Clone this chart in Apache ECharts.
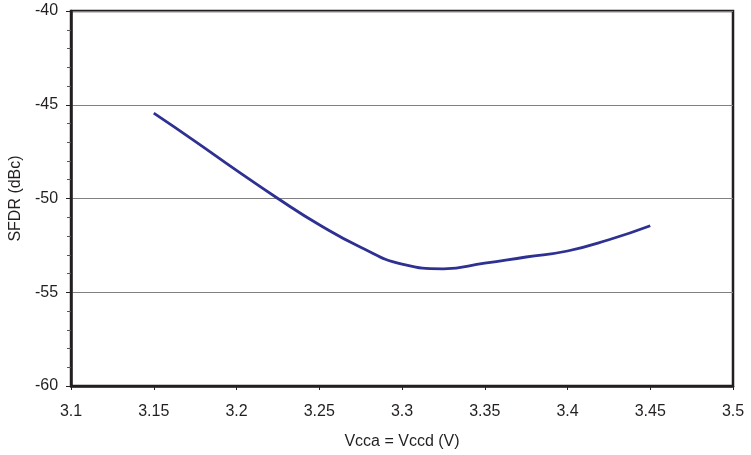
<!DOCTYPE html>
<html>
<head>
<meta charset="utf-8">
<script src="https://cdn.jsdelivr.net/npm/echarts@6/dist/echarts.min.js"></script>
<style>
  html, body { margin: 0; padding: 0; background: #fff; }
  #chart { width: 751px; height: 455px; }
</style>
</head>
<body>
<div id="chart"></div>
<script>
// supply voltage (V) and SFDR (dBc)
const vcc = [3.15, 3.175, 3.2, 3.225, 3.25, 3.275, 3.3, 3.325, 3.35, 3.375, 3.4, 3.425, 3.45]
const sfdr = [-45.45, -46.95, -48.5, -50.0, -51.4, -52.6, -53.5, -53.75, -53.45, -53.12, -52.8, -52.2, -51.45]

const chart = echarts.init(document.getElementById('chart'))
chart.setOption({
  animation: false,
  textStyle: { fontFamily: 'Liberation Sans, Arial, sans-serif' },
  grid: {
    left: 71,
    right: 18,
    top: 11,
    bottom: 69,
    show: true,
    borderColor: '#231f20',
    borderWidth: 2.5
  },
  xAxis: {
    type: 'value',
    min: 3.1,
    max: 3.5,
    interval: 0.05,
    name: 'Vcca = Vccd (V)',
    nameLocation: 'middle',
    nameGap: 48,
    nameTextStyle: { fontSize: 16, color: '#231f20' },
    axisLine: { lineStyle: { color: '#231f20', width: 2.5 } },
    axisTick: { show: true, length: 4, lineStyle: { color: '#231f20', width: 1 } },
    axisLabel: {
      fontSize: 16,
      color: '#231f20',
      margin: 18,
      formatter: v => String(Math.round(v * 100) / 100)
    },
    splitLine: { show: false }
  },
  yAxis: {
    type: 'value',
    min: -60,
    max: -40,
    interval: 5,
    name: 'SFDR (dBc)',
    nameLocation: 'middle',
    nameGap: 44,
    nameTextStyle: { fontSize: 16, color: '#231f20' },
    axisLine: { show: true, lineStyle: { color: '#231f20', width: 2.5 } },
    axisTick: { show: true, length: 5, lineStyle: { color: '#231f20', width: 1 } },
    minorTick: { show: true, splitNumber: 5, length: 4, lineStyle: { color: '#555', width: 1 } },
    axisLabel: { fontSize: 16, color: '#231f20', margin: 13 },
    splitLine: { show: true, lineStyle: { color: '#808080', width: 1.2 } }
  },
  series: [{
    type: 'line',
    data: vcc.map((v, i) => [v, sfdr[i]]),
    smooth: 0.5,
    showSymbol: false,
    lineStyle: { color: '#2e3192', width: 2.8 }
  }]
})
</script>
</body>
</html>
